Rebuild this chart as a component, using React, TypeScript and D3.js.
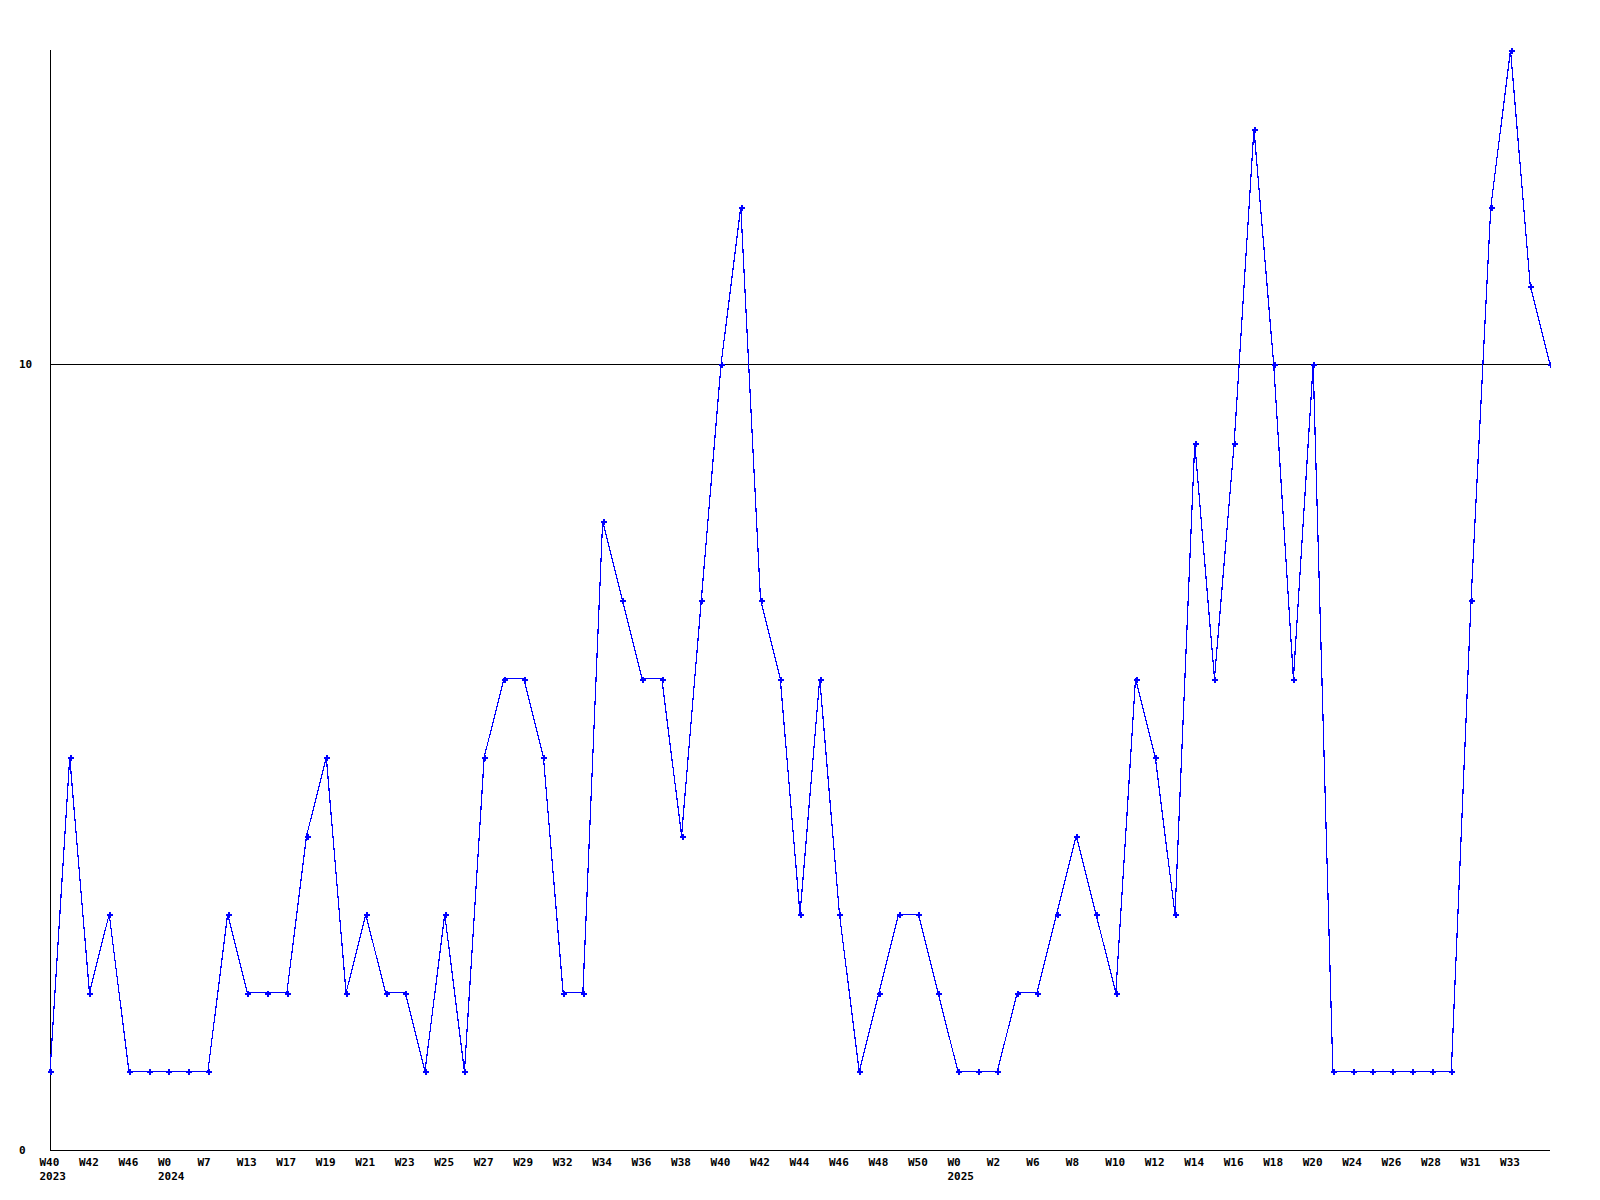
import React from "react";
import * as d3 from "d3";

// Weekly counts, one per week point (77 points)
const values: number[] = [
  1, 5, 2, 3, 1, 1, 1, 1, 1, 3,
  2, 2, 2, 4, 5, 2, 3, 2, 2, 1,
  3, 1, 5, 6, 6, 5, 2, 2, 8, 7,
  6, 6, 4, 7, 10, 12, 7, 6, 3, 6,
  3, 1, 2, 3, 3, 2, 1, 1, 1, 2,
  2, 3, 4, 3, 2, 6, 5, 3, 9, 6,
  9, 13, 10, 6, 10, 1, 1, 1, 1, 1,
  1, 1, 7, 12, 14, 11, 10,
];

// Week labels shown on every second point
const tickLabels: string[] = [
  "W40", "W42", "W46", "W0", "W7", "W13", "W17", "W19", "W21", "W23",
  "W25", "W27", "W29", "W32", "W34", "W36", "W38", "W40", "W42", "W44",
  "W46", "W48", "W50", "W0", "W2", "W6", "W8", "W10", "W12", "W14",
  "W16", "W18", "W20", "W24", "W26", "W28", "W31", "W33",
];
const tickStep = 2;

// Year labels: point index and year
const yearIndices: number[] = [0, 6, 46];
const yearLabels: string[] = ["2023", "2024", "2025"];

const yTicks: number[] = [0, 10];
const yMax = 14;

const W = 1600;
const H = 1200;
const left = 50;
const right = 1550;
const top = 50;
const bottom = 1150;

const FONT = "'DejaVu Sans Mono', monospace";

export default function App() {
  const x = d3.scaleLinear().domain([0, values.length - 1]).range([left, right]);
  const y = d3.scaleLinear().domain([0, yMax]).range([bottom, top]);

  const line = d3
    .line<number>()
    .x((_, i) => x(i))
    .y((d) => y(d));

  return (
    <svg
      width={W}
      height={H}
      style={{ position: "absolute", left: 0, top: 0, background: "#fff" }}
    >
      <defs>
        <clipPath id="plot">
          <rect x={0} y={0} width={right + 1} height={H} />
        </clipPath>
      </defs>
      {/* gridline at 10 */}
      {yTicks
        .filter((t) => t !== 0)
        .map((t) => (
          <line
            key={"g" + t}
            x1={left}
            x2={right}
            y1={Math.round(y(t)) + 0.5}
            y2={Math.round(y(t)) + 0.5}
            stroke="#000"
            strokeWidth={1}
            shapeRendering="crispEdges"
          />
        ))}
      {/* axes */}
      <line
        x1={left + 0.5}
        x2={left + 0.5}
        y1={top}
        y2={bottom}
        stroke="#000"
        strokeWidth={1}
        shapeRendering="crispEdges"
      />
      <line
        x1={left}
        x2={right}
        y1={bottom + 0.5}
        y2={bottom + 0.5}
        stroke="#000"
        strokeWidth={1}
        shapeRendering="crispEdges"
      />
      {/* y labels */}
      {yTicks.map((t) => (
        <text
          key={"y" + t}
          x={19}
          y={y(t) + 4}
          fontFamily={FONT}
          fontWeight="bold"
          fontSize={11}
          fill="#000"
        >
          {t}
        </text>
      ))}
      {/* x labels */}
      {tickLabels.map((lab, k) => (
        <text
          key={"x" + k}
          x={x(k * tickStep) - 10.5}
          y={1166}
          fontFamily={FONT}
          fontWeight="bold"
          fontSize={11}
          fill="#000"
        >
          {lab}
        </text>
      ))}
      {yearLabels.map((lab, k) => (
        <text
          key={"yr" + k}
          x={x(yearIndices[k]) - 10.5}
          y={1180}
          fontFamily={FONT}
          fontWeight="bold"
          fontSize={11}
          fill="#000"
        >
          {lab}
        </text>
      ))}
      {/* data line */}
      <g clipPath="url(#plot)">
        <path
          d={line(values) || ""}
          fill="none"
          stroke="#0000ff"
          strokeWidth={1.2}
          shapeRendering="crispEdges"
        />
        {values.map((v, i) => (
          <path
            key={"m" + i}
            transform={`translate(${Math.round(x(i))},${Math.round(y(v))})`}
            d="M-2.5,0.5H3.5M0.5,-2.5V3.5"
            stroke="#0000ff"
            strokeWidth={2}
            shapeRendering="crispEdges"
          />
        ))}
      </g>
    </svg>
  );
}
